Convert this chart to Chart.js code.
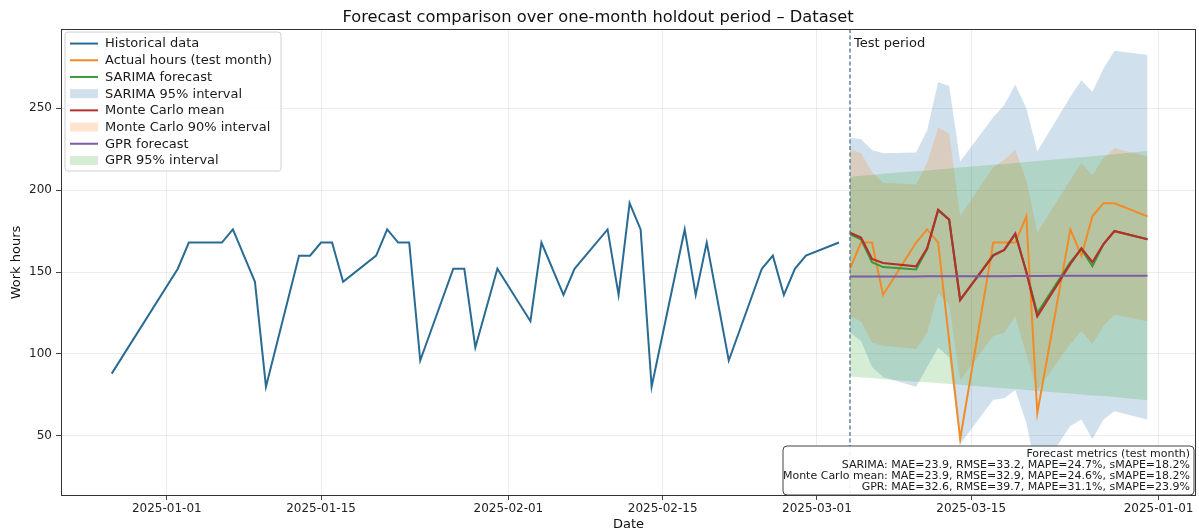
<!DOCTYPE html>
<html>
<head>
<meta charset="utf-8">
<script src="https://cdn.jsdelivr.net/npm/chart.js@4.4.1/dist/chart.umd.min.js"></script>
<style>
  html, body { margin: 0; padding: 0; background: #fff; }
  #wrap { width: 1199px; height: 532px; }
</style>
</head>
<body>
<div id="wrap"><canvas id="myChart" width="1199" height="532"></canvas></div>
<script>
// historical daily hours
const histDates = [
  '2024-12-27', '2025-01-02', '2025-01-03', '2025-01-06', '2025-01-07', '2025-01-09', '2025-01-10',
  '2025-01-13', '2025-01-14', '2025-01-15', '2025-01-16', '2025-01-17', '2025-01-20', '2025-01-21',
  '2025-01-22', '2025-01-23', '2025-01-24', '2025-01-27', '2025-01-28', '2025-01-29', '2025-01-31',
  '2025-02-03', '2025-02-04', '2025-02-06', '2025-02-07', '2025-02-10', '2025-02-11', '2025-02-12',
  '2025-02-13', '2025-02-14', '2025-02-17', '2025-02-18', '2025-02-19', '2025-02-21', '2025-02-24',
  '2025-02-25', '2025-02-26', '2025-02-27', '2025-02-28', '2025-03-03'
];
const histHours = [
  88, 152, 168, 168, 176, 144, 80,
  160, 160, 168, 168, 144, 160, 176,
  168, 168, 96, 152, 152, 104, 152,
  120, 168, 136, 152, 176, 136, 192,
  176, 80, 176, 136, 168, 96, 152,
  160, 136, 152, 160, 168
];

// test month
const testDates = [
  '2025-03-04', '2025-03-05', '2025-03-06', '2025-03-07', '2025-03-10', '2025-03-11', '2025-03-12',
  '2025-03-13', '2025-03-14', '2025-03-17', '2025-03-18', '2025-03-19', '2025-03-20', '2025-03-21',
  '2025-03-24', '2025-03-25', '2025-03-26', '2025-03-27', '2025-03-28', '2025-03-31'
];
const actualHours = [152, 168, 168, 136, 168, 176, 168, null, 48, 168, 168, 168, 184, 64, 176, 160, 184, 192, 192, 184];

const sarimaMean = [173, 170, 156, 153, 151.5, 164, 187.5, 182, 133, 160.5, 163.5, 173, 150.5, 125, 156, 164, 153.5, 167, 175, 170];
const sarimaLo = [113, 108, 92, 86, 80, 92, 104, 98, 45, 72, 73, 78, 58, 26, 56, 60, 48, 60, 65, 60];
const sarimaHi = [232, 231, 224.5, 222.5, 223, 236.5, 266, 263.5, 217.5, 244.5, 252, 264.5, 250, 223.5, 257, 267, 260, 274, 285, 282.5];

const mcMean = [174, 171, 158, 155.5, 153.5, 164.5, 188, 182, 133, 160, 163.5, 173.5, 150, 123, 155, 164.5, 156, 167, 175, 170];
const mcLo = [123, 120, 107, 105, 103, 113, 137, 130, 84, 111, 113, 123, 100, 78, 106, 114, 106, 117, 124, 120];
const mcHi = [225, 222.5, 211, 204.5, 203.5, 216.5, 238, 234.5, 184, 214, 218.5, 224.5, 206, 174.5, 206, 216.5, 209, 219.5, 225.5, 220.5];

const gprMean = [147.2, 147.2, 147.3, 147.3, 147.3, 147.4, 147.4, 147.4, 147.5, 147.5, 147.5, 147.6, 147.6, 147.6, 147.7, 147.7, 147.7, 147.8, 147.8, 147.8];
const gprLo = [86.4, 85.7, 85.3, 84.6, 83.1, 82.8, 82.2, 81.6, 81.2, 79.5, 79, 78.6, 78, 77.4, 75.9, 75.3, 74.7, 74.3, 73.7, 71.8];
const gprHi = [208, 208.7, 209.3, 210, 211.5, 212, 212.6, 213.2, 213.8, 215.5, 216, 216.6, 217.2, 217.8, 219.5, 220.1, 220.7, 221.3, 221.9, 223.8];

const tickDates = ['2025-01-01', '2025-01-15', '2025-02-01', '2025-02-15', '2025-03-01', '2025-03-15', '2025-04-01'];
const tickLabels = ['2025-01-01', '2025-01-15', '2025-02-01', '2025-02-15', '2025-03-01', '2025-03-15', '2025-01-01'];
const yTicks = [50, 100, 150, 200, 250];

const metricsLines = [
  'Forecast metrics (test month)',
  'SARIMA: MAE=23.9, RMSE=33.2, MAPE=24.7%, sMAPE=18.2%',
  'Monte Carlo mean: MAE=23.9, RMSE=32.9, MAPE=24.6%, sMAPE=18.2%',
  'GPR: MAE=32.6, RMSE=39.7, MAPE=31.1%, sMAPE=23.9%'
];

const FONT = '"DejaVu Sans", sans-serif';
const colors = {
  hist: '#2a6b94',
  actual: '#f28a26',
  sarima: '#3a9a3a',
  mc: '#b3302b',
  gpr: '#7d5ba6',
  sarimaBand: 'rgba(40,115,170,0.22)',
  mcBand: 'rgba(255,127,14,0.2)',
  gprBand: 'rgba(44,160,44,0.2)'
};

function dayNum(s) {
  const p = s.split('-').map(Number);
  return (Date.UTC(p[0], p[1] - 1, p[2]) - Date.UTC(2025, 0, 1)) / 86400000;
}
function pts(dates, vals) {
  return dates.map((d, i) => ({ x: dayNum(d), y: vals[i] }));
}

function line(label, dates, vals, color, width, order) {
  return {
    label, data: pts(dates, vals), borderColor: color, backgroundColor: color,
    borderWidth: width, pointRadius: 0, tension: 0, fill: false, order, spanGaps: true
  };
}
function bandEdge(label, dates, vals, fillColor, order, isLower) {
  return {
    label, data: pts(dates, vals), borderColor: 'transparent', borderWidth: 0,
    backgroundColor: fillColor, pointRadius: 0, tension: 0,
    fill: isLower ? '-1' : false, order
  };
}

const datasets = [
  bandEdge('sarimaHi', testDates, sarimaHi, colors.sarimaBand, 8, false),
  bandEdge('sarimaLo', testDates, sarimaLo, colors.sarimaBand, 8, true),
  bandEdge('mcHi', testDates, mcHi, colors.mcBand, 7, false),
  bandEdge('mcLo', testDates, mcLo, colors.mcBand, 7, true),
  bandEdge('gprHi', testDates, gprHi, colors.gprBand, 6, false),
  bandEdge('gprLo', testDates, gprLo, colors.gprBand, 6, true),
  line('Historical data', histDates, histHours, colors.hist, 2, 5),
  line('Actual hours (test month)', testDates, actualHours, colors.actual, 2, 4),
  line('SARIMA forecast', testDates, sarimaMean, colors.sarima, 2, 3),
  line('Monte Carlo mean', testDates, mcMean, colors.mc, 2.2, 2),
  line('GPR forecast', testDates, gprMean, colors.gpr, 2, 1)
];

const legendItems = [
  { text: 'Historical data', color: colors.hist, type: 'line' },
  { text: 'Actual hours (test month)', color: colors.actual, type: 'line' },
  { text: 'SARIMA forecast', color: colors.sarima, type: 'line' },
  { text: 'SARIMA 95% interval', color: colors.sarimaBand, type: 'patch' },
  { text: 'Monte Carlo mean', color: colors.mc, type: 'line' },
  { text: 'Monte Carlo 90% interval', color: colors.mcBand, type: 'patch' },
  { text: 'GPR forecast', color: colors.gpr, type: 'line' },
  { text: 'GPR 95% interval', color: colors.gprBand, type: 'patch' }
];

function rrect(ctx, x, y, w, h, r) {
  ctx.beginPath();
  ctx.moveTo(x + r, y);
  ctx.lineTo(x + w - r, y); ctx.quadraticCurveTo(x + w, y, x + w, y + r);
  ctx.lineTo(x + w, y + h - r); ctx.quadraticCurveTo(x + w, y + h, x + w - r, y + h);
  ctx.lineTo(x + r, y + h); ctx.quadraticCurveTo(x, y + h, x, y + h - r);
  ctx.lineTo(x, y + r); ctx.quadraticCurveTo(x, y, x + r, y);
  ctx.closePath();
}

const decorations = {
  id: 'decorations',
  afterDatasetsDraw(chart) {
    const { ctx, chartArea, scales } = chart;
    const x = scales.x.getPixelForValue(dayNum(testDates[0]));
    ctx.save();
    ctx.strokeStyle = '#4f7391';
    ctx.lineWidth = 1.3;
    ctx.setLineDash([4, 2.5]);
    ctx.beginPath();
    ctx.moveTo(x, chartArea.top);
    ctx.lineTo(x, chartArea.bottom);
    ctx.stroke();
    ctx.setLineDash([]);
    ctx.fillStyle = '#1a1a1a';
    ctx.font = '13px ' + FONT;
    ctx.textBaseline = 'middle';
    ctx.fillText('Test period', x + 4, chartArea.top + 15);
    ctx.restore();
  },
  afterDraw(chart) {
    const { ctx, chartArea } = chart;
    ctx.save();
    // frame
    ctx.strokeStyle = '#333';
    ctx.lineWidth = 1;
    ctx.strokeRect(Math.round(chartArea.left) + 0.5, Math.round(chartArea.top) + 0.5,
      Math.round(chartArea.width) - 1, Math.round(chartArea.height) - 1);

    // legend
    const lx = chartArea.left + 4, ly = chartArea.top + 3;
    rrect(ctx, lx, ly, 216, 139, 3);
    ctx.fillStyle = 'rgba(255,255,255,0.85)';
    ctx.fill();
    ctx.strokeStyle = '#d0d0d0';
    ctx.stroke();
    ctx.font = '13px ' + FONT;
    ctx.textBaseline = 'middle';
    legendItems.forEach((it, i) => {
      const y = ly + 11.5 + i * 16.7;
      if (it.type === 'line') {
        ctx.strokeStyle = it.color;
        ctx.lineWidth = 2;
        ctx.beginPath();
        ctx.moveTo(lx + 5, y);
        ctx.lineTo(lx + 33, y);
        ctx.stroke();
      } else {
        ctx.fillStyle = it.color;
        ctx.fillRect(lx + 5, y - 4.5, 28, 9);
      }
      ctx.fillStyle = '#1a1a1a';
      ctx.fillText(it.text, lx + 40, y + 0.5);
    });

    // metrics box
    const bw = 411, bh = 49;
    const bx = chartArea.right - 2 - bw, by = chartArea.bottom - 1 - bh;
    rrect(ctx, bx, by, bw, bh, 4);
    ctx.fillStyle = 'rgba(255,255,255,0.9)';
    ctx.fill();
    ctx.strokeStyle = '#444';
    ctx.lineWidth = 1;
    ctx.stroke();
    ctx.font = '11px ' + FONT;
    ctx.textAlign = 'right';
    ctx.fillStyle = '#1a1a1a';
    metricsLines.forEach((t, i) => {
      ctx.fillText(t, bx + bw - 4, by + 8.5 + i * 11);
    });
    ctx.restore();
  }
};

new Chart(document.getElementById('myChart'), {
  type: 'line',
  data: { datasets },
  options: {
    responsive: false,
    animation: false,
    devicePixelRatio: 1,
    layout: { padding: { left: 0, right: 3, top: 0, bottom: 0 } },
    plugins: {
      legend: { display: false },
      tooltip: { enabled: false },
      filler: { drawTime: 'beforeDatasetsDraw' },
      title: {
        display: true,
        text: 'Forecast comparison over one-month holdout period \u2013 Dataset',
        color: '#111',
        font: { family: FONT, size: 16.3, weight: 'normal' },
        padding: { top: 8, bottom: 1.5 }
      }
    },
    scales: {
      x: {
        type: 'linear',
        min: -9.6,
        max: 93.4,
        afterBuildTicks: (axis) => { axis.ticks = tickDates.map(d => ({ value: dayNum(d) })); },
        afterFit: (axis) => { axis.height = 36; },
        ticks: {
          autoSkip: false, maxRotation: 0, padding: 2, color: '#222',
          font: { family: FONT, size: 12 },
          callback: (v, i) => tickLabels[i]
        },
        grid: { color: 'rgba(0,0,0,0.07)', tickColor: '#444', tickLength: 4 },
        border: { display: false },
        title: { display: true, text: 'Date', color: '#111', font: { family: FONT, size: 13 }, padding: { top: 1, bottom: 0 } }
      },
      y: {
        min: 13.3,
        max: 298.3,
        afterBuildTicks: (axis) => { axis.ticks = yTicks.map(v => ({ value: v })); },
        afterFit: (axis) => { axis.width = 61; },
        ticks: { padding: 4, color: '#222', font: { family: FONT, size: 12 } },
        grid: { color: 'rgba(0,0,0,0.07)', tickColor: '#444', tickLength: 5 },
        border: { display: false },
        title: { display: true, text: 'Work hours', color: '#111', font: { family: FONT, size: 13 }, padding: { top: 9, bottom: 0 } }
      }
    }
  },
  plugins: [decorations]
});
</script>
</body>
</html>
